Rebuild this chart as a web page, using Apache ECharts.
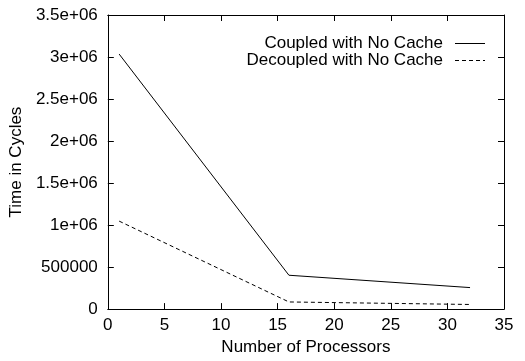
<!DOCTYPE html>
<html><head><meta charset="utf-8">
<script src="https://cdn.jsdelivr.net/npm/echarts@6/dist/echarts.min.js"></script>
<style>html,body{margin:0;padding:0;background:#fff}#c{width:525px;height:361px}</style>
</head><body><div id="c"></div>
<script>
const processors = [1, 16, 32];
const coupled = [3035000, 403000, 256000];
const decoupled = [1047000, 85000, 55000];
const seriesNames = ['Coupled with No Cache', 'Decoupled with No Cache'];
const xTitle = 'Number of Processors';
const yTitle = 'Time in Cycles';

function yFmt(v) {
  if (v === 0) return '0';
  if (v < 1e6) return String(v);
  return (v / 1e6) + 'e+06';
}
const FONT = 'Liberation Sans';
const FS = 17;
const SOLID_ICON = 'path://M0,0h30v1h-30z';
const DASH_ICON = 'path://M0,0h4v1h-4zM7,0h4v1h-4zM14,0h4v1h-4zM21,0h4v1h-4zM28,0h2v1h-2z';
const chart = echarts.init(document.getElementById('c'));
const axisCommon = {
  axisLine: { show: true, onZero: false, lineStyle: { color: '#000', width: 1 } },
  axisTick: { show: true, inside: true, length: 6, lineStyle: { color: '#000' } },
  splitLine: { show: false }
};
chart.setOption({
  animation: false,
  backgroundColor: '#fff',
  grid: { left: 107, right: 21, top: 15, bottom: 45, show: false },
  legend: {
    orient: 'vertical', right: 35, top: 30, align: 'right',
    itemWidth: 30, itemHeight: 1, itemGap: 0,
    itemStyle: { color: '#000', borderWidth: 0 },
    textStyle: { fontFamily: FONT, fontSize: FS, color: '#000', lineHeight: 16, padding: [0, 7, 0, 0] },
    data: [
      { name: seriesNames[0], icon: SOLID_ICON },
      { name: seriesNames[1], icon: DASH_ICON }
    ]
  },
  xAxis: [
    Object.assign({}, axisCommon, {
      type: 'value', min: 0, max: 35, interval: 5, position: 'bottom',
      name: xTitle, nameLocation: 'middle', nameGap: 26,
      nameTextStyle: { fontFamily: FONT, fontSize: FS, color: '#000' },
      axisLabel: { fontFamily: FONT, fontSize: FS, color: '#000', margin: 8 }
    }),
    Object.assign({}, axisCommon, {
      type: 'value', min: 0, max: 35, interval: 5, position: 'top',
      axisLabel: { show: false }
    })
  ],
  yAxis: [
    Object.assign({}, axisCommon, {
      type: 'value', min: 0, max: 3500000, interval: 500000, position: 'left',
      name: yTitle, nameLocation: 'middle', nameGap: 77, nameRotate: 90,
      nameTextStyle: { fontFamily: FONT, fontSize: FS, color: '#000' },
      axisLabel: { fontFamily: FONT, fontSize: FS, color: '#000', margin: 10, formatter: yFmt }
    }),
    Object.assign({}, axisCommon, {
      type: 'value', min: 0, max: 3500000, interval: 500000, position: 'right',
      axisLabel: { show: false }
    })
  ],
  series: [
    {
      name: seriesNames[0], type: 'line', symbol: 'none',
      lineStyle: { color: '#000', width: 1, type: 'solid' }, itemStyle: { color: '#000' },
      data: processors.map((p, i) => [p, coupled[i]])
    },
    {
      name: seriesNames[1], type: 'line', symbol: 'none',
      lineStyle: { color: '#000', width: 1, type: [4, 3] }, itemStyle: { color: '#000' },
      data: processors.map((p, i) => [p, decoupled[i]])
    }
  ]
});
</script>
</body></html>
